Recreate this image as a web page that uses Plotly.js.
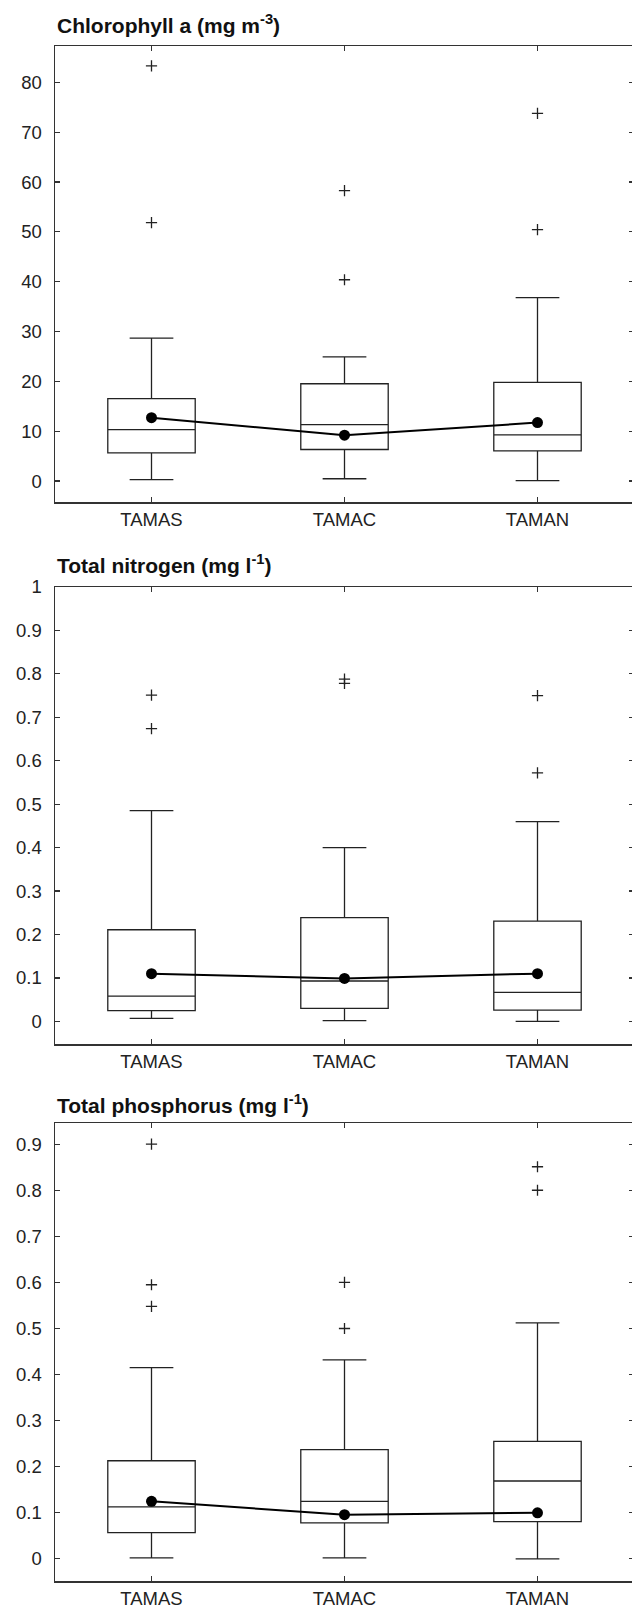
<!DOCTYPE html>
<html>
<head>
<meta charset="utf-8">
<script src="https://cdn.plot.ly/plotly-3.0.1.min.js"></script>
<style>
html,body{margin:0;padding:0;overflow:hidden;background:#fff;}
#chart{width:640px;height:1608px;}
</style>
</head>
<body>
<div id="chart"></div>
<script>
// ---- data ----
const sites = ["TAMAS", "TAMAC", "TAMAN"];

// Chlorophyll a (mg m-3)
const chlLower  = [0.27, 0.47, 0.07];
const chlQ1     = [5.67, 6.33, 6.07];
const chlMedian = [10.33, 11.33, 9.27];
const chlQ3     = [16.53, 19.53, 19.8];
const chlUpper  = [28.67, 24.93, 36.8];
const chlMean   = [12.73, 9.2, 11.73];
const chlOutX   = ["TAMAS", "TAMAS", "TAMAC", "TAMAC", "TAMAN", "TAMAN"];
const chlOutY   = [51.87, 83.33, 40.4, 58.27, 50.47, 73.8];

// Total nitrogen (mg l-1)
const tnLower  = [0.007, 0.002, 0.0];
const tnQ1     = [0.025, 0.03, 0.026];
const tnMedian = [0.058, 0.093, 0.067];
const tnQ3     = [0.211, 0.239, 0.231];
const tnUpper  = [0.485, 0.4, 0.46];
const tnMean   = [0.11, 0.099, 0.11];
const tnOutX   = ["TAMAS", "TAMAS", "TAMAC", "TAMAC", "TAMAN", "TAMAN"];
const tnOutY   = [0.674, 0.751, 0.778, 0.788, 0.572, 0.75];

// Total phosphorus (mg l-1)
const tpLower  = [0.002, 0.002, 0.0];
const tpQ1     = [0.057, 0.078, 0.081];
const tpMedian = [0.113, 0.125, 0.169];
const tpQ3     = [0.213, 0.237, 0.255];
const tpUpper  = [0.415, 0.432, 0.512];
const tpMean   = [0.125, 0.096, 0.1];
const tpOutX   = ["TAMAS", "TAMAS", "TAMAS", "TAMAC", "TAMAC", "TAMAN", "TAMAN"];
const tpOutY   = [0.548, 0.595, 0.9, 0.5, 0.6, 0.8, 0.851];

const panelTitles = [
  "Chlorophyll a (mg m<sup>-3</sup>)",
  "Total nitrogen (mg l<sup>-1</sup>)",
  "Total phosphorus (mg l<sup>-1</sup>)"
];

// ---- drawing ----
const W = 640, H = 1608;
const FONT = "Liberation Sans, Arial, sans-serif";
const INK = "#222";

function boxTrace(ax, lo, q1, med, q3, up) {
  return {
    type: "box", x: sites, lowerfence: lo, q1: q1, median: med, q3: q3, upperfence: up,
    xaxis: "x" + ax, yaxis: "y" + ax, boxpoints: false,
    width: 0.453, whiskerwidth: 0.5,
    fillcolor: "rgba(0,0,0,0)", line: {color: INK, width: 1.3},
    showlegend: false, hoverinfo: "skip"
  };
}
function outTrace(ax, xs, ys) {
  return {
    type: "scatter", mode: "markers", x: xs, y: ys,
    xaxis: "x" + ax, yaxis: "y" + ax,
    marker: {symbol: "cross-thin-open", size: 8, line: {color: INK, width: 1.3}, color: INK},
    showlegend: false, hoverinfo: "skip"
  };
}
function meanTrace(ax, m) {
  return {
    type: "scatter", mode: "lines+markers", x: sites, y: m,
    xaxis: "x" + ax, yaxis: "y" + ax,
    line: {color: "#000", width: 2},
    marker: {color: "#000", size: 11},
    showlegend: false, hoverinfo: "skip"
  };
}

const ax = ["", "2", "3"];
const data = [
  boxTrace(ax[0], chlLower, chlQ1, chlMedian, chlQ3, chlUpper),
  outTrace(ax[0], chlOutX, chlOutY),
  meanTrace(ax[0], chlMean),
  boxTrace(ax[1], tnLower, tnQ1, tnMedian, tnQ3, tnUpper),
  outTrace(ax[1], tnOutX, tnOutY),
  meanTrace(ax[1], tnMean),
  boxTrace(ax[2], tpLower, tpQ1, tpMedian, tpQ3, tpUpper),
  outTrace(ax[2], tpOutX, tpOutY),
  meanTrace(ax[2], tpMean)
];

// pixel layout of panels: [top, bottom]
const panelPx = [[46, 502], [587, 1044], [1123, 1581]];
const yRanges = [[-4.2, 87.3], [-0.052, 1.0], [-0.048, 0.946]];
const yDticks = [10, 0.1, 0.1];
const titleBottomPx = [39, 579, 1119];
const xLeft = 55, xRight = 634;

function py(p) { return 1 - p / H; }

const layout = {
  width: W, height: H,
  margin: {l: 0, r: 0, t: 0, b: 0},
  paper_bgcolor: "#fff", plot_bgcolor: "#fff",
  font: {family: FONT, size: 18, color: INK},
  showlegend: false,
  annotations: []
};

for (let i = 0; i < 3; i++) {
  const xa = "xaxis" + ax[i], ya = "yaxis" + ax[i];
  layout[xa] = {
    domain: [xLeft / W, xRight / W],
    anchor: "y" + ax[i],
    type: "category",
    range: [-0.5, 2.5],
    showline: true, linecolor: "#333", linewidth: 1.5, mirror: "ticks",
    ticks: "inside", ticklen: 5, tickwidth: 1.2, tickcolor: "#333",
    showgrid: false, zeroline: false,
    tickfont: {family: FONT, size: 18.5, color: INK},
    ticklabelstandoff: 0,
    fixedrange: true
  };
  layout[ya] = {
    domain: [py(panelPx[i][1]), py(panelPx[i][0])],
    anchor: "x" + ax[i],
    range: yRanges[i],
    dtick: yDticks[i], tick0: 0,
    showline: true, linecolor: "#333", linewidth: 1.5, mirror: "ticks",
    ticks: "inside", ticklen: 5, tickwidth: 1.2, tickcolor: "#333",
    showgrid: false, zeroline: false,
    tickfont: {family: FONT, size: 18.5, color: INK},
    ticklabelstandoff: 8,
    fixedrange: true
  };
  layout.annotations.push({
    text: panelTitles[i],
    xref: "paper", yref: "paper",
    x: xLeft / W, y: py(titleBottomPx[i]),
    xanchor: "left", yanchor: "bottom",
    showarrow: false,
    font: {family: FONT, size: 21, color: "#111", weight: "bold"}
  });
}

Plotly.newPlot("chart", data, layout, {staticPlot: true, displayModeBar: false});
</script>
</body>
</html>
